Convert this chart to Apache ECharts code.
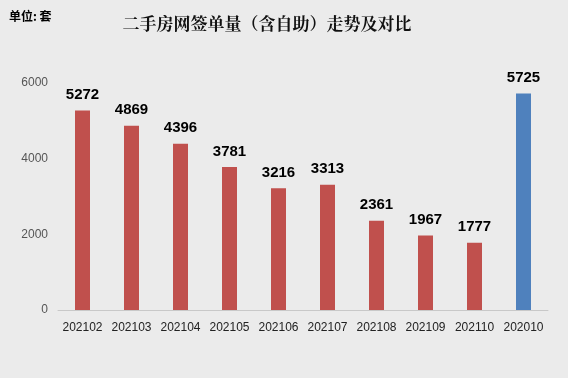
<!DOCTYPE html>
<html>
<head>
<meta charset="utf-8">
<script src="https://cdn.jsdelivr.net/npm/echarts@6/dist/echarts.min.js"></script>
<style>
  html, body { margin: 0; padding: 0; background: #ebebeb; }
  #chart { width: 568px; height: 378px; }
</style>
</head>
<body>
<div id="chart"></div>
<script>
// months shown on the x axis
var months = ["202102", "202103", "202104", "202105", "202106", "202107", "202108", "202109", "202110", "202010"];
// signed units per month
var units = [5272, 4869, 4396, 3781, 3216, 3313, 2361, 1967, 1777, 5725];
var yTicks = [0, 2000, 4000, 6000];

var red = "#c0504d", blue = "#4f81bd";

var chart = echarts.init(document.getElementById("chart"));

var option = {
  backgroundColor: "#ebebeb",
  animation: false,
  title: [{
    text: "二手房网签单量（含自助）走势及对比",
    left: 262,
    top: 10,
    textAlign: "center",
    textStyle: { fontFamily: "Noto Serif CJK SC, serif", fontSize: 17, fontWeight: "bold", color: "#111" }
  }, {
    text: "单位: 套",
    left: 4,
    top: 5,
    textStyle: { fontFamily: "Noto Sans CJK SC", fontSize: 12, fontWeight: "bold", color: "#000" }
  }],
  grid: { left: 58, right: 20, top: 83, bottom: 68 },
  xAxis: {
    type: "category",
    data: months,
    axisTick: { show: false },
    axisLine: { lineStyle: { color: "#c8c8c8" } },
    axisLabel: { interval: 0, color: "#222", fontSize: 12, fontFamily: "Liberation Sans", margin: 12 }
  },
  yAxis: {
    type: "value",
    min: yTicks[0],
    max: yTicks[yTicks.length - 1],
    interval: 2000,
    splitLine: { show: false },
    axisLabel: {
      color: "#555", fontSize: 12, fontFamily: "Liberation Sans", margin: 10,
      formatter: function (v) { return String(v); }
    }
  },
  series: [{
    type: "bar",
    barWidth: 15,
    data: units.map(function (v, i) {
      return { value: v, itemStyle: { color: i === units.length - 1 ? blue : red } };
    }),
    label: {
      show: true,
      position: "top",
      distance: 8,
      color: "#000",
      fontSize: 15,
      fontWeight: "bold",
      fontFamily: "Liberation Sans"
    }
  }]
};

chart.setOption(option);
</script>
</body>
</html>
